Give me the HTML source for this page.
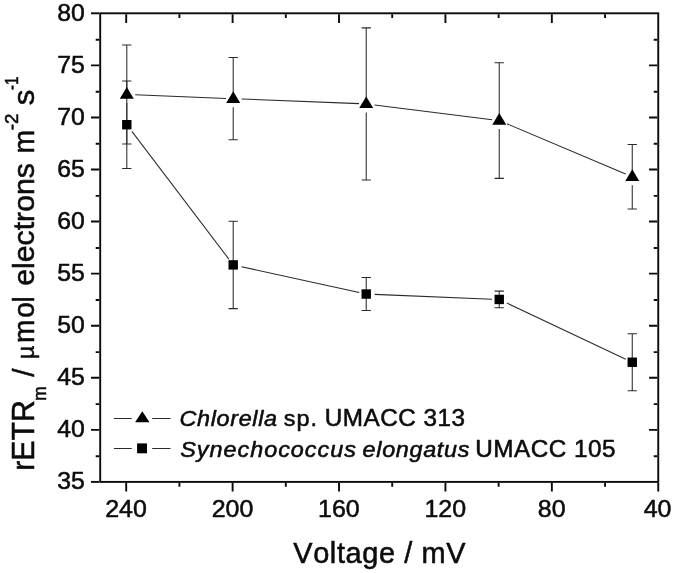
<!DOCTYPE html>
<html lang="en"><head><meta charset="utf-8"><title>rETRm vs Voltage</title>
<style>html,body{margin:0;padding:0;background:#fff}body{width:675px;height:573px;overflow:hidden}svg{display:block}text{font-family:"Liberation Sans",Arial,Helvetica,sans-serif;font-kerning:none;fill:#0c0c0c;stroke:#0c0c0c;stroke-width:0.55px;stroke-linejoin:round}.i{font-style:italic}</style>
</head><body>
<svg width="675" height="573" viewBox="0 0 675 573">
<rect width="675" height="573" fill="#fff"/>
<g stroke="#0a0a0a" stroke-width="1.9" fill="none" stroke-linecap="butt">
<rect x="100.2" y="13.3" width="558.05" height="468.60"/>
<path d="M91.00 481.90H99.25"/>
<path d="M91.00 429.83H99.25M649.05 429.83H657.30"/>
<path d="M91.00 377.77H99.25M649.05 377.77H657.30"/>
<path d="M91.00 325.70H99.25M649.05 325.70H657.30"/>
<path d="M91.00 273.63H99.25M649.05 273.63H657.30"/>
<path d="M91.00 221.57H99.25M649.05 221.57H657.30"/>
<path d="M91.00 169.50H99.25M649.05 169.50H657.30"/>
<path d="M91.00 117.43H99.25M649.05 117.43H657.30"/>
<path d="M91.00 65.37H99.25M649.05 65.37H657.30"/>
<path d="M91.00 13.30H99.25"/>
<path d="M95.70 456.22H99.25M653.75 456.22H657.30"/>
<path d="M95.70 404.15H99.25M653.75 404.15H657.30"/>
<path d="M95.70 352.08H99.25M653.75 352.08H657.30"/>
<path d="M95.70 300.02H99.25M653.75 300.02H657.30"/>
<path d="M95.70 247.95H99.25M653.75 247.95H657.30"/>
<path d="M95.70 195.88H99.25M653.75 195.88H657.30"/>
<path d="M95.70 143.82H99.25M653.75 143.82H657.30"/>
<path d="M95.70 91.75H99.25M653.75 91.75H657.30"/>
<path d="M95.70 39.68H99.25M653.75 39.68H657.30"/>
<path d="M658.25 482.85V491.50"/>
<path d="M551.84 482.85V491.50M551.84 14.25V22.90"/>
<path d="M445.43 482.85V491.50M445.43 14.25V22.90"/>
<path d="M339.02 482.85V491.50M339.02 14.25V22.90"/>
<path d="M232.61 482.85V491.50M232.61 14.25V22.90"/>
<path d="M126.20 482.85V491.50M126.20 14.25V22.90"/>
<path d="M605.04 482.85V486.70M605.04 14.25V18.10"/>
<path d="M498.63 482.85V486.70M498.63 14.25V18.10"/>
<path d="M392.22 482.85V486.70M392.22 14.25V18.10"/>
<path d="M285.81 482.85V486.70M285.81 14.25V18.10"/>
<path d="M179.41 482.85V486.70M179.41 14.25V18.10"/>
</g>
<g stroke="#2a2a2a" stroke-width="1.05" fill="none">
<line x1="135.19" y1="94.85" x2="226.02" y2="98.41"/>
<line x1="241.60" y1="99.02" x2="359.03" y2="103.61"/>
<line x1="374.56" y1="104.94" x2="492.09" y2="119.66"/>
<line x1="506.97" y1="123.83" x2="625.62" y2="173.99"/>
<line x1="131.88" y1="131.41" x2="228.86" y2="259.15"/>
<line x1="241.42" y1="266.68" x2="359.19" y2="292.50"/>
<line x1="374.62" y1="294.39" x2="492.04" y2="299.17"/>
<line x1="506.83" y1="303.04" x2="625.74" y2="359.18"/>
<path d="M126.80 45.06V88.52M126.80 103.02V143.99M122.15 45.06h9.3M122.15 143.99h9.3"/>
<path d="M233.21 57.56V92.69M233.21 107.19V139.82M228.56 57.56h9.3M228.56 139.82h9.3"/>
<path d="M366.22 27.88V97.90M366.22 112.40V179.91M361.57 27.88h9.3M361.57 179.91h9.3"/>
<path d="M499.24 62.76V114.56M499.24 129.06V178.35M494.59 62.76h9.3M494.59 178.35h9.3"/>
<path d="M632.25 144.51V170.79M632.25 185.29V209.07M627.60 144.51h9.3M627.60 209.07h9.3"/>
<path d="M126.80 80.99V120.72M126.80 128.72V168.46M122.15 80.99h9.3M122.15 168.46h9.3"/>
<path d="M233.21 221.15V260.89M233.21 268.89V308.62M228.56 221.15h9.3M228.56 308.62h9.3"/>
<path d="M366.22 277.59V290.04M366.22 298.04V310.50M361.57 277.59h9.3M361.57 310.50h9.3"/>
<path d="M499.24 291.13V295.46M499.24 303.46V307.79M494.59 291.13h9.3M494.59 307.79h9.3"/>
<path d="M632.25 333.72V358.25M632.25 366.25V390.78M627.60 333.72h9.3M627.60 390.78h9.3"/>
</g>
<g fill="#000" stroke="none">
<path d="M126.80 87.02L133.80 98.72H119.80Z"/>
<path d="M233.21 91.19L240.21 102.89H226.21Z"/>
<path d="M366.22 96.40L373.22 108.10H359.22Z"/>
<path d="M499.24 113.06L506.24 124.76H492.24Z"/>
<path d="M632.25 169.29L639.25 180.99H625.25Z"/>
<rect x="122.10" y="120.02" width="9.4" height="9.4"/>
<rect x="228.51" y="260.19" width="9.4" height="9.4"/>
<rect x="361.52" y="289.34" width="9.4" height="9.4"/>
<rect x="494.54" y="294.76" width="9.4" height="9.4"/>
<rect x="627.55" y="357.55" width="9.4" height="9.4"/>
</g>
<g stroke="#2a2a2a" stroke-width="1.05" fill="none">
<path d="M113.9 418.4H131.7M152.2 418.4H170.5"/>
<path d="M113.9 448.4H131.7M152.2 448.4H170.5"/>
</g>
<path d="M142.3 411.2L149.5 422.3H135.1Z" fill="#000"/>
<rect x="137.1" y="443.4" width="9.9" height="9.9" fill="#000"/>
<text transform="translate(84.79 489.30) scale(1.0127 1)" font-size="24.5" text-anchor="end">35</text>
<text transform="translate(84.79 437.23) scale(1.0127 1)" font-size="24.5" text-anchor="end">40</text>
<text transform="translate(84.79 385.17) scale(1.0127 1)" font-size="24.5" text-anchor="end">45</text>
<text transform="translate(84.79 333.10) scale(1.0127 1)" font-size="24.5" text-anchor="end">50</text>
<text transform="translate(84.79 281.03) scale(1.0127 1)" font-size="24.5" text-anchor="end">55</text>
<text transform="translate(84.79 228.97) scale(1.0127 1)" font-size="24.5" text-anchor="end">60</text>
<text transform="translate(84.79 176.90) scale(1.0127 1)" font-size="24.5" text-anchor="end">65</text>
<text transform="translate(84.79 124.83) scale(1.0127 1)" font-size="24.5" text-anchor="end">70</text>
<text transform="translate(84.79 72.77) scale(1.0127 1)" font-size="24.5" text-anchor="end">75</text>
<text transform="translate(84.79 20.70) scale(1.0127 1)" font-size="24.5" text-anchor="end">80</text>
<text transform="translate(657.51 516.6) scale(1.0197 1)" font-size="24.5" text-anchor="middle">40</text>
<text transform="translate(551.70 516.6) scale(1.0197 1)" font-size="24.5" text-anchor="middle">80</text>
<text transform="translate(445.29 516.6) scale(1.0197 1)" font-size="24.5" text-anchor="middle">120</text>
<text transform="translate(338.88 516.6) scale(1.0197 1)" font-size="24.5" text-anchor="middle">160</text>
<text transform="translate(232.47 516.6) scale(1.0197 1)" font-size="24.5" text-anchor="middle">200</text>
<text transform="translate(126.06 516.6) scale(1.0197 1)" font-size="24.5" text-anchor="middle">240</text>
<text transform="translate(293.27 563.00) scale(1.0000 1)" font-size="28.9" stroke-width="0.2" letter-spacing="0.618">Voltage / mV</text>
<text transform="translate(179.51 425.90) scale(1.0300 1)" font-size="22.7" stroke-width="0.2" letter-spacing="0.646"><tspan class="i">Chlorella</tspan></text>
<text transform="translate(283.85 425.90) scale(1.0300 1)" font-size="22.7" stroke-width="0.2" letter-spacing="0.969">sp.</text>
<text transform="translate(324.82 425.90) scale(1.0300 1)" font-size="23.608" stroke-width="0.2" letter-spacing="0.444">UMACC 313</text>
<text transform="translate(180.14 457.10) scale(1.0300 1)" font-size="22.7" stroke-width="0.2" letter-spacing="0.978"><tspan class="i">Synechococcus</tspan></text>
<text transform="translate(362.61 457.10) scale(1.0300 1)" font-size="22.7" stroke-width="0.2" letter-spacing="0.651"><tspan class="i">elongatus</tspan></text>
<text transform="translate(475.22 457.10) scale(1.0300 1)" font-size="23.608" stroke-width="0.2" letter-spacing="0.475">UMACC 105</text>
<text transform="translate(34.20 470.84) rotate(-90) scale(0.9646 1)" font-size="31.4">rETR</text>
<text transform="translate(46.20 400.67) rotate(-90) scale(0.9554 1)" font-size="18.0">m</text>
<text transform="translate(34.20 376.73) rotate(-90) scale(0.9931 1)" font-size="29.9">/</text>
<text transform="translate(34.20 0) rotate(-90) scale(0.9350 1)" font-size="29.9" x="-383.95 -366.83 -339.78 -323.54"><tspan font-size="24.52">µ</tspan>mol</text>
<text transform="translate(34.20 285.81) rotate(-90) scale(1.0124 1)" font-size="29.9">electrons</text>
<text transform="translate(34.20 153.52) rotate(-90) scale(0.9522 1)" font-size="29.9">m</text>
<text transform="translate(17.80 130.26) rotate(-90) scale(1.0385 1)" font-size="18.0">-2</text>
<text transform="translate(34.20 105.20) rotate(-90) scale(1.0470 1)" font-size="29.9">s</text>
<text transform="translate(17.80 90.00) rotate(-90) scale(0.8411 1)" font-size="18.0">-1</text>
</svg>
</body></html>
